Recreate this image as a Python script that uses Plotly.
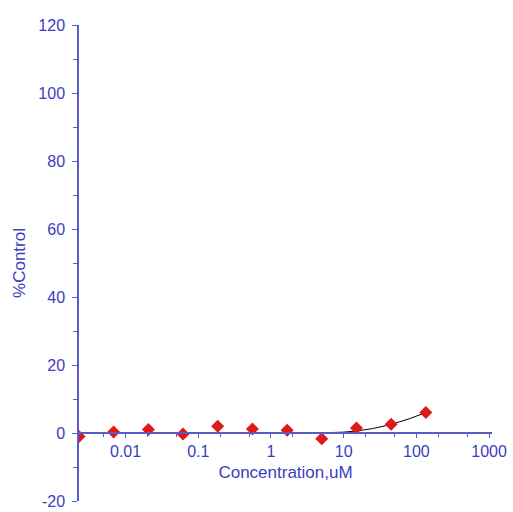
import plotly.graph_objects as go

# Dose-response measurements (3-fold dilution series)
conc_um = [0.00229, 0.00686, 0.0206, 0.0617, 0.185, 0.556, 1.67, 5.0, 15.0, 45.0, 135.0]
pct_control = [-1.0, 0.3, 1.0, -0.3, 2.0, 1.2, 0.8, -1.7, 1.5, 2.6, 6.0]

# Fitted curve, sampled along the concentration range
fit_conc = [0.00229, 0.1, 1.0, 5.0, 10.0, 15.0, 25.0, 45.0, 80.0, 135.0]
fit_pct = [0.0, 0.0, 0.0, 0.05, 0.25, 0.6, 1.3, 2.5, 4.2, 6.0]

x_tick_vals = [0.01, 0.1, 1, 10, 100, 1000]
x_tick_text = ["0.01", "0.1", "1", "10", "100", "1000"]
y_tick_vals = [-20, 0, 20, 40, 60, 80, 100, 120]
y_tick_text = ["-20", "0", "20", "40", "60", "80", "100", "120"]

AXIS_BLUE = "#5a5ac8"
TEXT_BLUE = "#3c3cc0"
FONT = "Liberation Sans, Arial, sans-serif"
TICK_SIZE = 16
TITLE_SIZE = 17

y_min, y_max = -20, 120

fig = go.Figure()
fig.add_trace(go.Scatter(
    x=fit_conc, y=fit_pct, mode="lines",
    line=dict(color="black", width=1),
    hoverinfo="skip", showlegend=False,
))
fig.add_trace(go.Scatter(
    x=conc_um, y=pct_control, mode="markers",
    marker=dict(symbol="diamond", size=10, color="#e01818"),
    showlegend=False,
))

fig.update_layout(
    width=513, height=512,
    margin=dict(l=79, r=21, t=25, b=11),
    paper_bgcolor="white", plot_bgcolor="white",
    font=dict(family=FONT, size=TICK_SIZE, color=TEXT_BLUE),
    xaxis=dict(
        type="log", range=[-2.64, 3.04],
        anchor="free", position=(0 - y_min) / (y_max - y_min),
        automargin=False,
        showline=True, linecolor=AXIS_BLUE, linewidth=1.5,
        showgrid=False, zeroline=False,
        tickmode="array", tickvals=x_tick_vals, ticktext=x_tick_text,
        ticks="outside", ticklen=4, tickcolor=AXIS_BLUE,
        ticklabelstandoff=0,
        minor=dict(ticks="outside", ticklen=3, tickcolor=AXIS_BLUE, showgrid=False),
        tickfont=dict(size=TICK_SIZE, color=TEXT_BLUE, family=FONT),
        title=dict(text="Concentration,uM", font=dict(size=TITLE_SIZE, color=TEXT_BLUE, family=FONT), standoff=6),
    ),
    yaxis=dict(
        range=[y_min, y_max],
        automargin=False,
        showline=True, linecolor=AXIS_BLUE, linewidth=1.5,
        showgrid=False, zeroline=False,
        tickmode="array", tickvals=y_tick_vals, ticktext=y_tick_text,
        ticks="outside", ticklen=5, tickcolor=AXIS_BLUE,
        ticklabelstandoff=4,
        minor=dict(ticks="outside", ticklen=4, dtick=10, tickcolor=AXIS_BLUE, showgrid=False),
        tickfont=dict(size=TICK_SIZE, color=TEXT_BLUE, family=FONT),
        title=dict(text="%Control", font=dict(size=TITLE_SIZE, color=TEXT_BLUE, family=FONT), standoff=8),
    ),
)

fig.write_html("out.html")
